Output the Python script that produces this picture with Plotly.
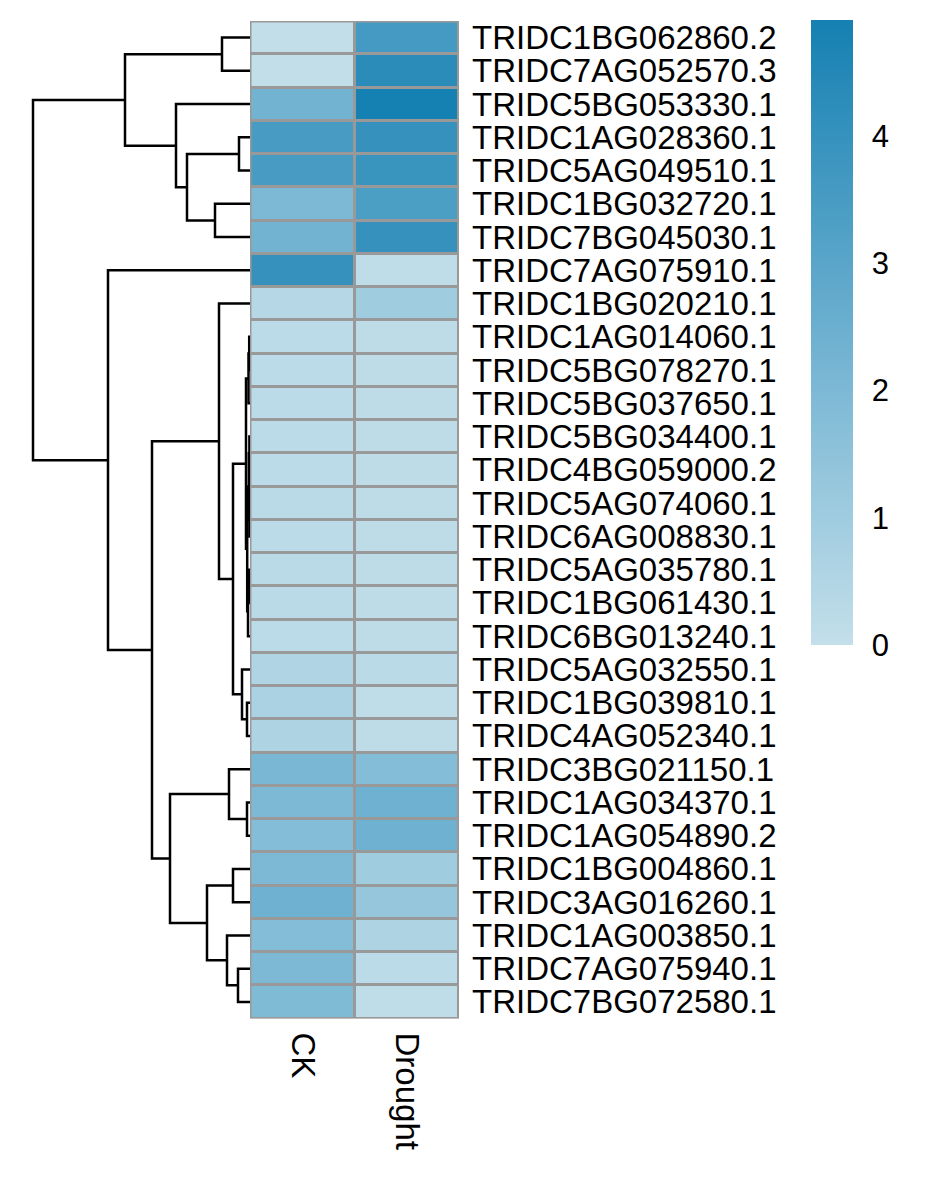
import plotly.graph_objects as go

genes = [
    "TRIDC1BG062860.2", "TRIDC7AG052570.3", "TRIDC5BG053330.1", "TRIDC1AG028360.1",
    "TRIDC5AG049510.1", "TRIDC1BG032720.1", "TRIDC7BG045030.1", "TRIDC7AG075910.1",
    "TRIDC1BG020210.1", "TRIDC1AG014060.1", "TRIDC5BG078270.1", "TRIDC5BG037650.1",
    "TRIDC5BG034400.1", "TRIDC4BG059000.2", "TRIDC5AG074060.1", "TRIDC6AG008830.1",
    "TRIDC5AG035780.1", "TRIDC1BG061430.1", "TRIDC6BG013240.1", "TRIDC5AG032550.1",
    "TRIDC1BG039810.1", "TRIDC4AG052340.1", "TRIDC3BG021150.1", "TRIDC1AG034370.1",
    "TRIDC1AG054890.2", "TRIDC1BG004860.1", "TRIDC3AG016260.1", "TRIDC1AG003850.1",
    "TRIDC7AG075940.1", "TRIDC7BG072580.1",
]
samples = ["CK", "Drought"]

ck = [0.05, 0.05, 2.3, 3.5, 3.5, 2.0, 2.3, 4.0, 0.4, 0.2,
      0.2, 0.2, 0.2, 0.2, 0.25, 0.2, 0.25, 0.25, 0.2, 0.55,
      0.7, 0.6, 2.1, 2.0, 1.8, 2.0, 2.4, 1.8, 2.0, 1.9]
drought = [3.6, 4.3, 4.91, 4.0, 3.9, 3.4, 4.0, 0.1, 1.0, 0.15,
           0.15, 0.15, 0.15, 0.15, 0.15, 0.15, 0.15, 0.15, 0.15, 0.25,
           0.1, 0.15, 1.8, 2.4, 2.4, 1.0, 1.3, 0.6, 0.2, 0.1]

# dendrogram merges: (node, child1, child2, height); leaves are row indices
merges = [
    ("a", 0, 1, 28), ("b", 3, 4, 11), ("c", 5, 6, 35), ("d", "b", "c", 63),
    ("e", 2, "d", 74), ("f", "a", "e", 125),
    ("r1", 9, 10, 0.8), ("r2", "r1", 11, 1.5), ("r3", 12, 13, 0.6),
    ("r4", 14, 15, 0.6), ("r5", "r3", "r4", 1.2), ("r6", 16, 17, 1.0),
    ("r7", "r6", 18, 2.0), ("r8", "r5", "r7", 2.8), ("J1", "r2", "r8", 4),
    ("J2a", 20, 21, 3), ("J2", 19, "J2a", 8), ("J", "J1", "J2", 17),
    ("I", 8, "J", 31), ("L1", 23, 24, 3), ("L", 22, "L1", 21),
    ("N", 25, 26, 17), ("P", 28, 29, 12), ("O", 27, "P", 23),
    ("M", "N", "O", 43), ("K", "L", "M", 80), ("H", "I", "K", 98),
    ("G", 7, "H", 142), ("root", "f", "G", 217),
]

zmax = 4.91
colorscale = [[0.0, "#C3DFEA"], [0.5, "#6DB0D0"], [1.0, "#1580B2"]]
font_family = "Liberation Sans, Arial, sans-serif"

W, H = 922, 1173  # page body has an 8px margin
z = [[c, d] for c, d in zip(ck, drought)]
n = len(genes)

fig = go.Figure()

# gray background for cell borders
fig.add_shape(type="rect", xref="x", yref="y", x0=-0.5, x1=len(samples) - 0.5,
              y0=-0.5, y1=n - 0.5, fillcolor="#999999", line=dict(width=0), layer="below")

fig.add_trace(go.Heatmap(
    z=z, x=list(range(len(samples))), y=list(range(n)),
    zmin=0, zmax=zmax, colorscale=colorscale, xgap=3, ygap=3,
    xaxis="x", yaxis="y",
    colorbar=dict(
        x=803 / W, xanchor="left", y=1 - 10 / H, yanchor="top",
        len=627 / H, lenmode="fraction", thickness=42, outlinewidth=0,
        xpad=0, ypad=0,
        tickvals=[0, 1, 2, 3, 4], ticks="outside", ticklen=13, tickcolor="white",
        tickfont=dict(family=font_family, size=31, color="black"),
    ),
))

fig.add_shape(type="rect", xref="x", yref="y", x0=-0.5, x1=len(samples) - 0.5,
              y0=-0.5, y1=n - 0.5, line=dict(color="#999999", width=3), layer="above")

# dendrogram
pos = {i: float(i) for i in range(n)}
hgt = {i: 0.0 for i in range(n)}
xs, ys = [], []
for name, c1, c2, h in merges:
    y1, y2 = pos[c1], pos[c2]
    xs += [hgt[c1], h, h, hgt[c2], None]
    ys += [y1, y1, y2, y2, None]
    pos[name] = (y1 + y2) / 2
    hgt[name] = h

fig.add_trace(go.Scatter(x=xs, y=ys, mode="lines", xaxis="x2", yaxis="y",
                         line=dict(color="black", width=2.5), hoverinfo="skip",
                         showlegend=False))

fig.update_layout(
    width=W, height=H, margin=dict(l=0, r=0, t=0, b=0),
    paper_bgcolor="white", plot_bgcolor="white", showlegend=False,
    font=dict(family=font_family, color="black"),
    xaxis=dict(domain=[242 / W, 451 / W], range=[-0.5, 1.5],
               tickvals=[0, 1], ticktext=samples, tickangle=90, ticks="",
               showgrid=False, zeroline=False, showline=False, anchor="y",
               ticklabelstandoff=13,
               tickfont=dict(family=font_family, size=33, color="black")),
    yaxis=dict(domain=[1 - 1012 / H, 1 - 11 / H], range=[n - 0.5, -0.5],
               tickvals=list(range(n)), ticktext=genes, side="right", anchor="x",
               ticks="", showgrid=False, zeroline=False, showline=False,
               ticklabelstandoff=12,
               tickfont=dict(family=font_family, size=33, color="black")),
    xaxis2=dict(domain=[0, 242 / W], range=[242, 0], anchor="y",
                showticklabels=False, ticks="", showgrid=False,
                zeroline=False, showline=False),
)

fig.write_html("out.html")
